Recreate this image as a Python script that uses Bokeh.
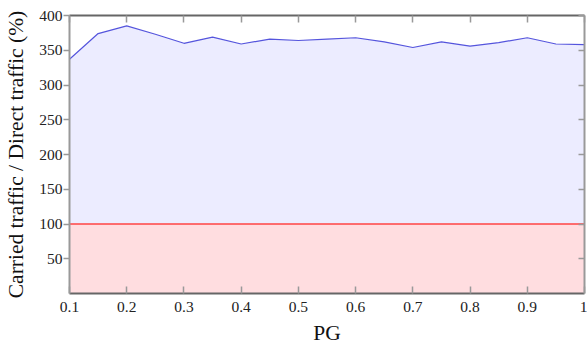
from bokeh.plotting import figure
from bokeh.models import Range1d, LinearAxis, FixedTicker
from bokeh.embed import file_html
from bokeh.resources import INLINE

pg = [0.1, 0.15, 0.2, 0.25, 0.3, 0.35, 0.4, 0.45, 0.5, 0.55, 0.6, 0.65, 0.7, 0.75, 0.8, 0.85, 0.9, 0.95, 1.0]
carried = [337, 374, 385, 373, 360, 369, 359, 366, 364, 366, 368, 362, 354, 362, 356, 361, 368, 359, 358]
direct = [100] * len(pg)
x_ticks = [0.1, 0.2, 0.3, 0.4, 0.5, 0.6, 0.7, 0.8, 0.9, 1.0]
y_ticks = [50, 100, 150, 200, 250, 300, 350, 400]

FONT = "Liberation Serif"
AX = "#666666"

p = figure(width=587, height=347, output_backend="svg", toolbar_location=None,
           x_range=Range1d(0.1, 1.0), y_range=Range1d(0, 400),
           min_border_left=69, min_border_right=3, min_border_top=15, min_border_bottom=52)
p.outline_line_color = None
p.grid.visible = False
p.xaxis.visible = False
p.yaxis.visible = False

p.varea(x=pg, y1=0, y2=carried, fill_color="#ECECFF")
p.varea(x=pg, y1=0, y2=direct, fill_color="#FFDDE0")
p.line(pg, carried, line_color="#5555DD", line_width=1.2)
p.line(pg, direct, line_color="#FF4444", line_width=1.5)

def style(ax, labels=True, tin=0, tout=0):
    ax.axis_line_color = AX
    ax.axis_line_width = 2
    ax.major_tick_line_color = "#999999"
    ax.major_tick_line_width = 1.5
    ax.major_tick_in = tin
    ax.major_tick_out = tout
    ax.minor_tick_line_color = None
    ax.major_label_text_font = FONT
    ax.major_label_text_font_size = "15.5px"
    ax.major_label_text_color = "#222222"
    ax.axis_label_text_font = FONT
    ax.axis_label_text_font_style = "normal"
    ax.axis_label_text_font_size = "21.5px"
    ax.axis_label_text_color = "#111111"
    if not labels:
        ax.major_label_text_color = None
        ax.major_label_standoff = 0

bottom = LinearAxis(ticker=FixedTicker(ticks=x_ticks), axis_label="PG")
style(bottom, tin=7)
bottom.major_label_standoff = 8
bottom.axis_label_standoff = 6
bottom.major_label_overrides = {1.0: "1"}
p.add_layout(bottom, "below")

left = LinearAxis(ticker=FixedTicker(ticks=y_ticks), axis_label="Carried traffic / Direct traffic (%)")
style(left, tout=6)
left.axis_line_color = "#999999"
left.major_label_standoff = 1
left.axis_label_standoff = 8
p.add_layout(left, "left")

top = LinearAxis(ticker=FixedTicker(ticks=x_ticks))
style(top, labels=False, tin=7)
p.add_layout(top, "above")

right = LinearAxis(ticker=FixedTicker(ticks=y_ticks))
style(right, labels=False, tin=6)
right.axis_line_color = "#999999"
p.add_layout(right, "right")

open("out.html", "w").write(file_html(p, INLINE))
